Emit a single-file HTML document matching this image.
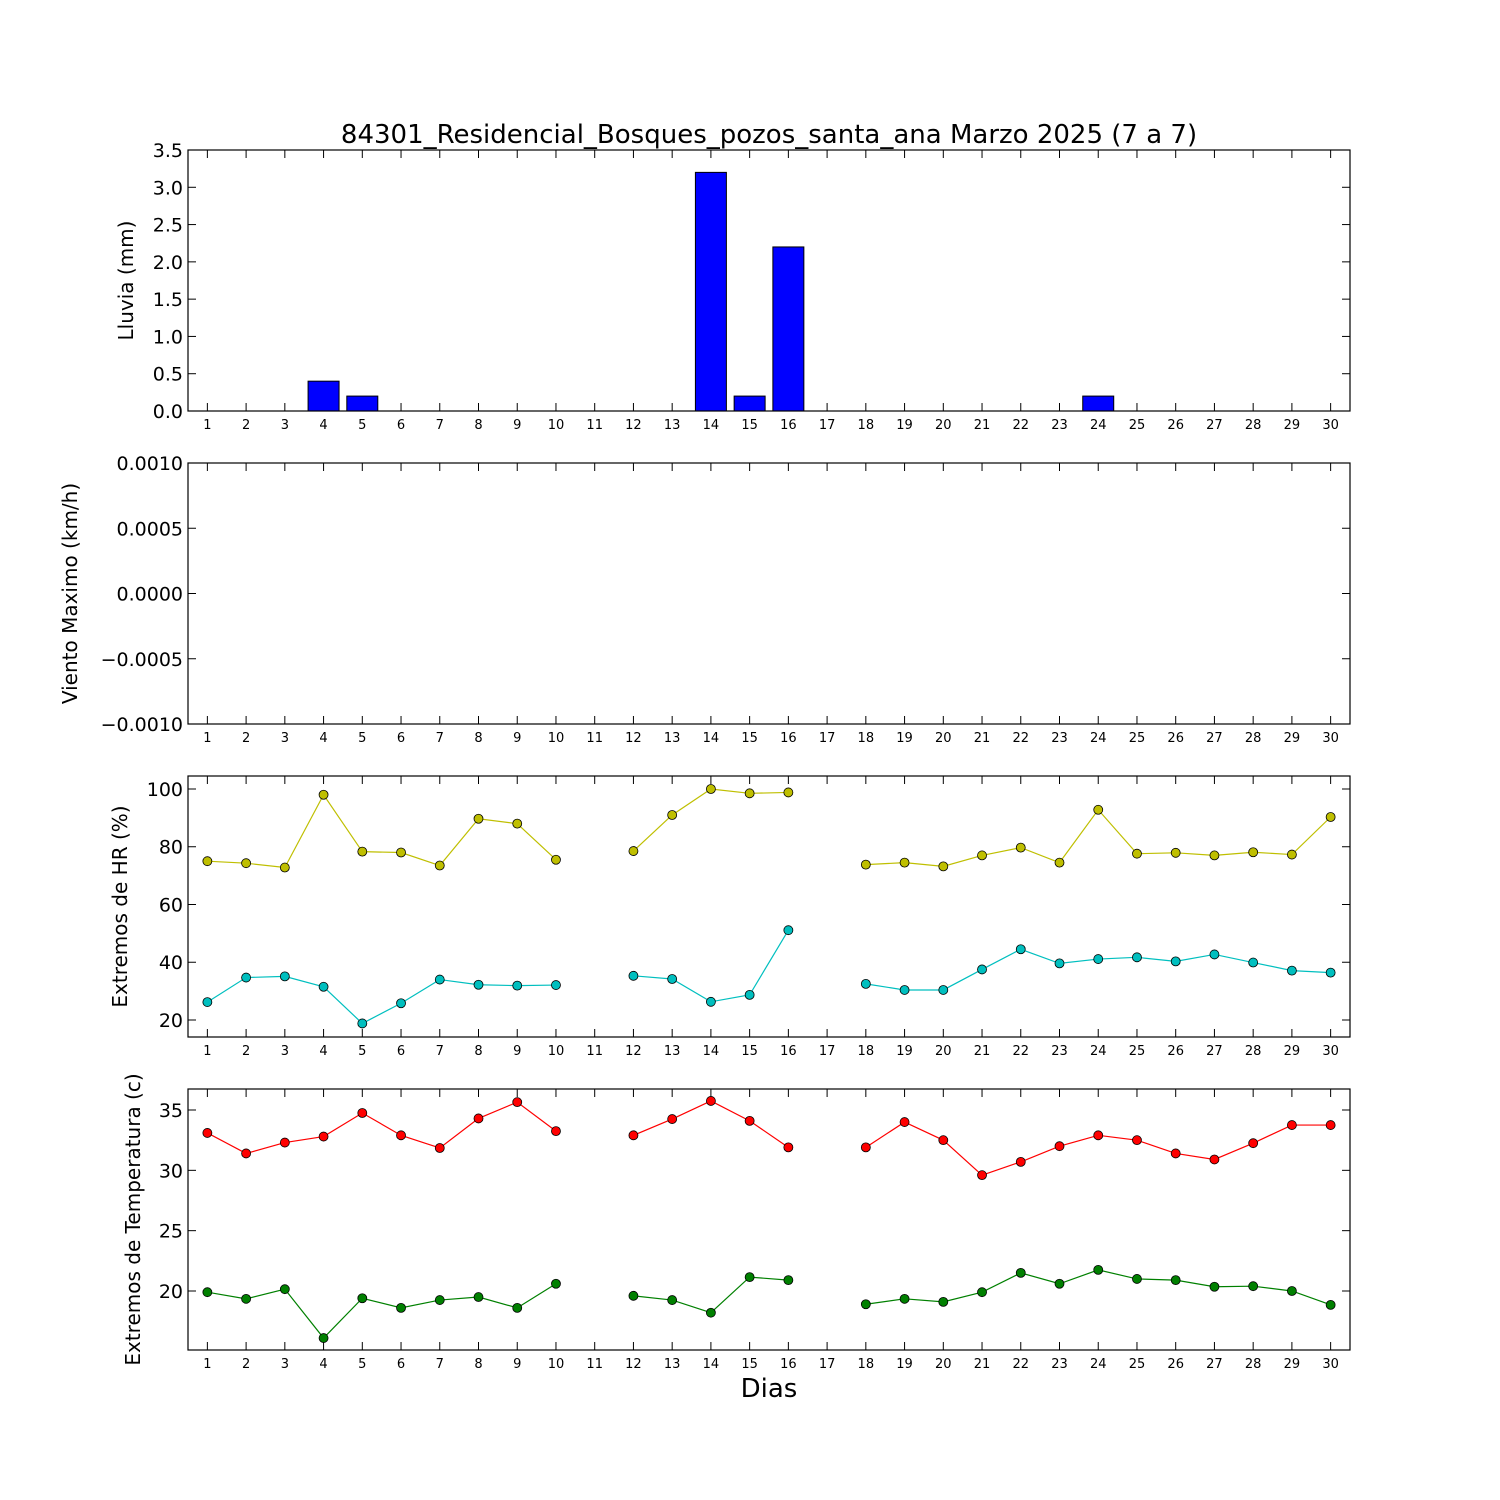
<!DOCTYPE html>
<html><head><meta charset="utf-8"><style>
body{margin:0;background:#fff}
svg{display:block;font-family:"DejaVu Sans","Liberation Sans",sans-serif}
</style></head><body>
<svg id="c" width="1500" height="1500" xmlns="http://www.w3.org/2000/svg">
<text x="769" y="143" font-size="26" text-anchor="middle">84301_Residencial_Bosques_pozos_santa_ana Marzo 2025  (7 a 7)</text>
<text x="769" y="1397" font-size="26" text-anchor="middle">Dias</text>
</svg>
<script>
const days = [1,2,3,4,5,6,7,8,9,10,11,12,13,14,15,16,17,18,19,20,21,22,23,24,25,26,27,28,29,30];
const rain = [0,0,0,0.4,0.2,0,0,0,0,0,0,0,0,3.2,0.2,2.2,0,0,0,0,0,0,0,0.2,0,0,0,0,0,0];
const hrMax = [75,74.3,72.8,98,78.3,78,73.5,89.7,88,75.5,null,78.5,91,100,98.5,98.8,null,73.8,74.5,73.2,77,79.7,74.5,92.8,77.6,77.9,77,78.1,77.3,90.3];
const hrMin = [26.2,34.7,35.1,31.5,18.8,25.8,34,32.2,31.9,32.1,null,35.3,34.2,26.3,28.7,51.1,null,32.5,30.4,30.4,37.5,44.5,39.6,41.1,41.7,40.3,42.7,39.9,37.1,36.4];
const tMax = [33.1,31.4,32.3,32.8,34.75,32.9,31.85,34.3,35.65,33.25,null,32.9,34.25,35.75,34.1,31.9,null,31.9,34.0,32.5,29.6,30.7,32.0,32.9,32.5,31.4,30.9,32.25,33.75,33.75];
const tMin = [19.9,19.35,20.15,16.1,19.4,18.6,19.25,19.5,18.6,20.6,null,19.6,19.25,18.2,21.15,20.9,null,18.9,19.35,19.1,19.9,21.5,20.6,21.75,21.0,20.9,20.35,20.4,20.0,18.85];
const rainTicks = ["0.0","0.5","1.0","1.5","2.0","2.5","3.0","3.5"];
const windTicks = ["\u22120.0010","\u22120.0005","0.0000","0.0005","0.0010"];
const hrTicks = ["20","40","60","80","100"];
const tTicks = ["20","25","30","35"];

const svg=document.getElementById('c');
const NS='http://www.w3.org/2000/svg';
const L=188,R=1350;
function mk(tag,attrs,parent){const e=document.createElementNS(NS,tag);for(const k in attrs)e.setAttribute(k,attrs[k]);(parent||svg).appendChild(e);return e;}
const xs=d=>L+(d-0.5)*(R-L)/30;

function panel(top,bot,ymin,ymax,ticks,label,lx,name){
  const g=mk('g',{});
  
  
  const ys=v=>bot-(v-ymin)/(ymax-ymin)*(bot-top);
  ticks.forEach(t=>{
    const v=parseFloat(t.replace('\u2212','-'));const y=ys(v);
    const l1=mk('line',{x1:L,x2:L+8,y1:y,y2:y,stroke:'#000'},g);
    
    
    mk('line',{x1:R,x2:R-8,y1:y,y2:y,stroke:'#000'},g);
    const tx=mk('text',{x:L-5,y:y+7,'font-size':19,'text-anchor':'end'},g);
    
    
    tx.textContent=t;
  });
  days.forEach(d=>{
    const x=xs(d);
    mk('line',{x1:x,x2:x,y1:bot,y2:bot-8,stroke:'#000'},g);
    mk('line',{x1:x,x2:x,y1:top,y2:top+8,stroke:'#000'},g);
    const tx=mk('text',{x:x,y:bot+18,'font-size':13,'text-anchor':'middle'},g);
    
    
    tx.textContent=d;
  });
  const cy=(top+bot)/2;
  const yl=mk('text',{x:lx,y:cy,'font-size':20,'text-anchor':'middle',transform:`rotate(-90 ${lx} ${cy})`},g);
  
  
  yl.textContent=label;
  return {g,ys,top,bot};
}
function frame(p,name){
  const r=mk('rect',{x:L,y:p.top,width:R-L,height:p.bot-p.top,fill:'none',stroke:'#000','stroke-width':1.2},p.g);
  
  
}
function series(p,vals,color,name){
  let seg=[];const segs=[];
  vals.forEach((v,i)=>{if(v==null){if(seg.length)segs.push(seg);seg=[];}else seg.push([xs(days[i]),p.ys(v)]);});
  if(seg.length)segs.push(seg);
  segs.forEach(s=>{
    const pl=mk('polyline',{points:s.map(q=>q.join(',')).join(' '),fill:'none',stroke:color,'stroke-width':1.2},p.g);
    
    
  });
  vals.forEach((v,i)=>{if(v==null)return;
    const c=mk('circle',{cx:xs(days[i]),cy:p.ys(v),r:4.5,fill:color,stroke:'#000','stroke-width':0.8},p.g);
    
    
  });
}
// Panel 1 rain
const p1=panel(150,411,0,3.5,rainTicks,'Lluvia (mm)',133,'rain');
const bw=0.8*(R-L)/30;
rain.forEach((v,i)=>{
  const x=xs(days[i])-bw/2,y=p1.ys(v);
  const b=mk('rect',{x:x,y:y,width:bw,height:p1.bot-y,fill:'#0000ff',stroke:'#000','stroke-width':1},p1.g);
  
  
});
frame(p1,'rain');
// Panel 2 wind
const p2=panel(463,724,-0.001,0.001,windTicks,'Viento Maximo (km/h)',77,'wind');
frame(p2,'wind');
// Panel 3 HR
const p3=panel(776,1037,14.11,104.5,hrTicks,'Extremos de HR (%)',127,'humidity');
series(p3,hrMax,'#bfbf00','hr-max');
series(p3,hrMin,'#00bfbf','hr-min');
frame(p3,'humidity');
// Panel 4 Temp
const p4=panel(1089,1350,15.11,36.74,tTicks,'Extremos de Temperatura (c)',140,'temperature');
series(p4,tMax,'#ff0000','temp-max');
series(p4,tMin,'#008000','temp-min');
frame(p4,'temperature');
</script>
</body></html>
